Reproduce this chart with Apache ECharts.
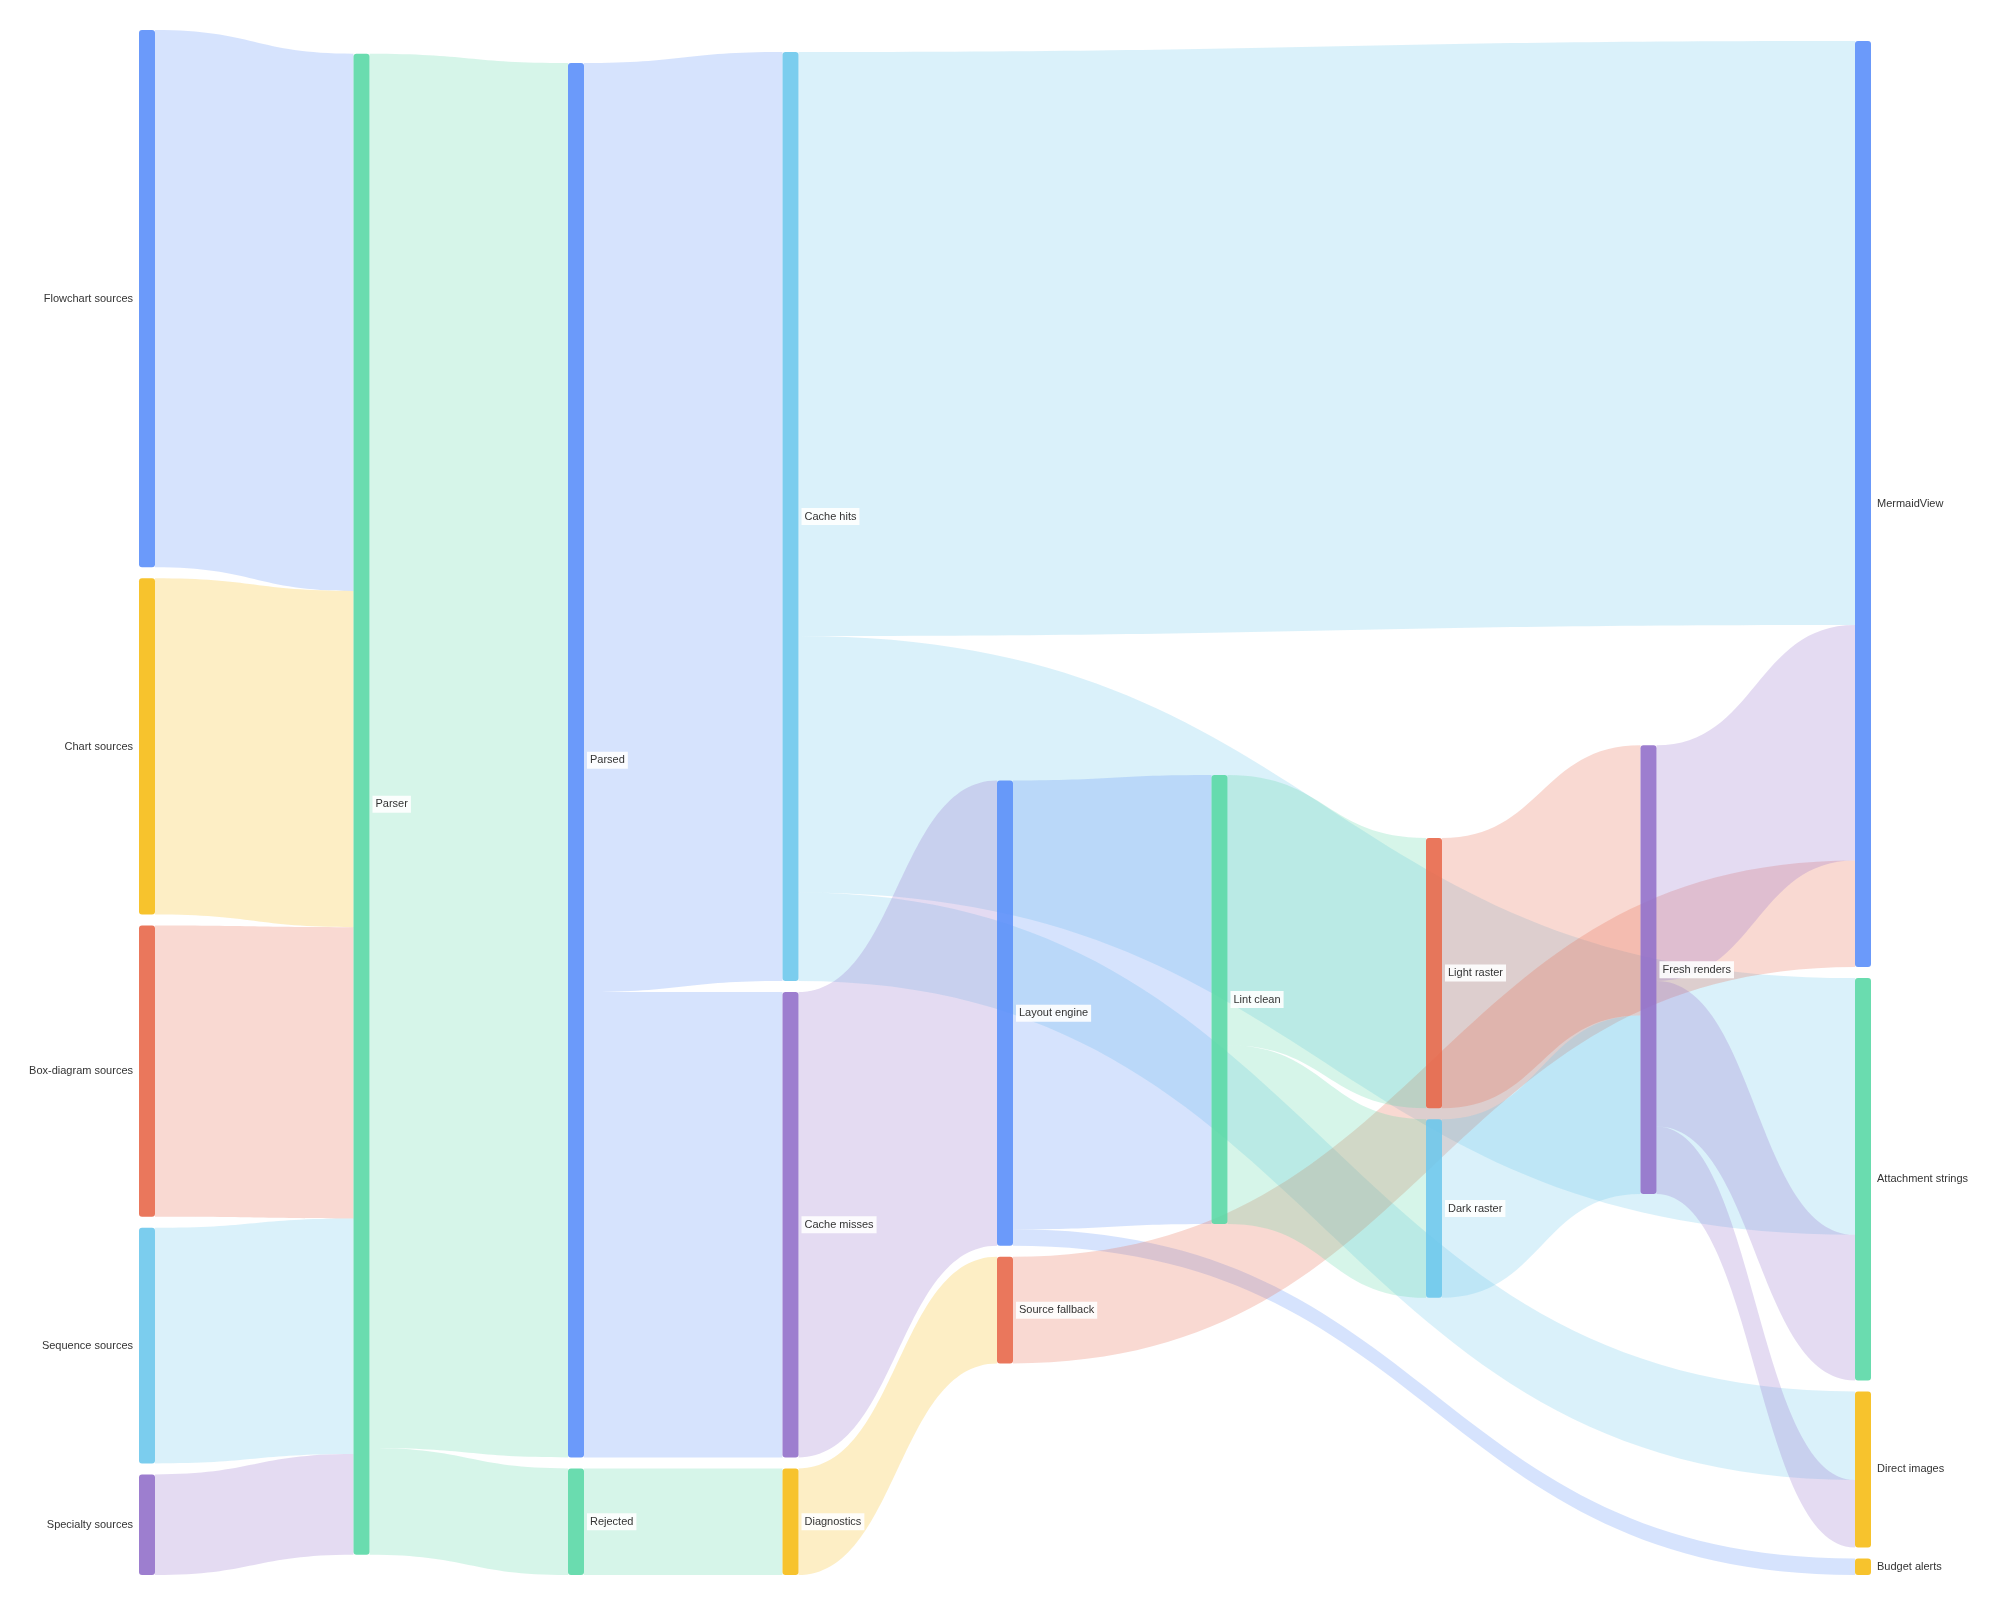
<!DOCTYPE html>
<html>
<head>
<meta charset="utf-8">
<title>Render pipeline sankey</title>
<script src="https://cdn.jsdelivr.net/npm/echarts@6/dist/echarts.min.js"></script>
<style>
  html, body { margin: 0; padding: 0; background: #fff; }
  #chart { width: 2000px; height: 1605px; }
</style>
</head>
<body>
<div id="chart"></div>
<script>
// nodes, in column order
const nodeNames = [
  'Flowchart sources', 'Chart sources', 'Box-diagram sources', 'Sequence sources', 'Specialty sources',
  'Parser',
  'Parsed', 'Rejected',
  'Cache hits', 'Cache misses', 'Diagnostics',
  'Layout engine', 'Source fallback',
  'Lint clean',
  'Light raster', 'Dark raster',
  'Fresh renders',
  'MermaidView', 'Attachment strings', 'Direct images', 'Budget alerts'
]

const blue = '#5B8FF9', green = '#5AD8A6', yellow = '#F6BD16', red = '#E8684A', sky = '#6DC8EC', purple = '#9270CA'
const nodeColors = [
  blue, yellow, red, sky, purple,
  green,
  blue, green,
  sky, purple, yellow,
  blue, red,
  green,
  red, sky,
  purple,
  blue, green, yellow, yellow
]

// links
const linkSources = [
  'Flowchart sources', 'Chart sources', 'Box-diagram sources', 'Sequence sources', 'Specialty sources',
  'Parser', 'Parser',
  'Parsed', 'Parsed',
  'Rejected',
  'Cache hits', 'Cache hits', 'Cache hits',
  'Cache misses',
  'Diagnostics',
  'Layout engine', 'Layout engine',
  'Source fallback',
  'Lint clean', 'Lint clean',
  'Light raster', 'Dark raster',
  'Fresh renders', 'Fresh renders', 'Fresh renders'
]
const linkTargets = [
  'Parser', 'Parser', 'Parser', 'Parser', 'Parser',
  'Parsed', 'Rejected',
  'Cache hits', 'Cache misses',
  'Diagnostics',
  'MermaidView', 'Attachment strings', 'Direct images',
  'Layout engine',
  'Source fallback',
  'Lint clean', 'Budget alerts',
  'MermaidView',
  'Light raster', 'Dark raster',
  'Fresh renders', 'Fresh renders',
  'MermaidView', 'Attachment strings', 'Direct images'
]
const linkValues = [
  358, 224, 194, 157, 67,
  929, 71,
  619, 310,
  71,
  389, 171, 59,
  310,
  71,
  299, 11,
  71,
  180, 119,
  180, 119,
  157, 97, 45
]

// first column gets its labels on the left
const firstColumn = nodeNames.slice(0, 5)

const chart = echarts.init(document.getElementById('chart'))

const nodes = nodeNames.map((name, i) => {
  const node = {
    name: name,
    itemStyle: { color: nodeColors[i] }
  }
  if (firstColumn.includes(name)) {
    node.label = { position: 'left' }
  }
  return node
})

const links = linkSources.map((s, i) => ({
  source: s,
  target: linkTargets[i],
  value: linkValues[i]
}))

chart.setOption({
  animation: false,
  series: [
    {
      type: 'sankey',
      left: 139,
      right: 129,
      top: 30,
      bottom: 30,
      nodeWidth: 16,
      nodeGap: 11,
      layoutIterations: 48,
      draggable: false,
      data: nodes,
      links: links,
      itemStyle: {
        opacity: 0.9,
        borderRadius: 3
      },
      lineStyle: {
        color: 'source',
        opacity: 0.25,
        curveness: 0.5
      },
      label: {
        fontSize: 11,
        color: '#333',
        fontFamily: 'Arial, "Liberation Sans", sans-serif',
        backgroundColor: 'rgba(255,255,255,0.9)',
        padding: [3, 3],
        distance: 3
      }
    }
  ]
})
</script>
</body>
</html>
